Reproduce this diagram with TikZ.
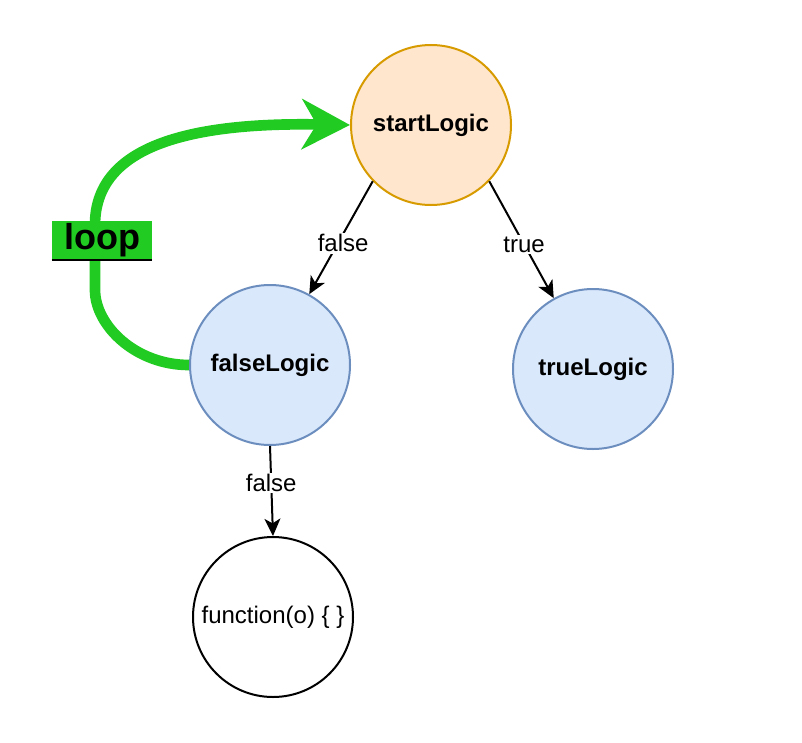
\documentclass[tikz,border=0pt]{standalone}
\usepackage{fontspec}
\setmainfont{Liberation Sans}
\usetikzlibrary{arrows.meta}
\definecolor{peachfill}{HTML}{FFE6CC}
\definecolor{peachline}{HTML}{D79B00}
\definecolor{bluefill}{HTML}{DAE8FC}
\definecolor{blueline}{HTML}{6C8EBF}
\definecolor{loopgreen}{HTML}{21CB21}
\tikzset{
  state/.style={circle, minimum size=120pt, inner sep=0pt, line width=1.5pt, font=\fontsize{18}{20}\selectfont\bfseries},
  startstate/.style={state, draw=peachline, fill=peachfill},
  bluestate/.style={state, draw=blueline, fill=bluefill},
  funcstate/.style={state, draw=black, fill=white, font=\fontsize{18}{20}\selectfont},
  edgelbl/.style={fill=white, inner sep=1pt, font=\fontsize{18}{20}\selectfont},
  flow/.style={line width=1.5pt, -{Stealth[length=13pt,width=12pt,inset=3.5pt]}},
  loopflow/.style={line width=8pt, loopgreen, -{Stealth[length=36pt,width=37.5pt,inset=11pt]}},
  looplbl/.style={fill=loopgreen, minimum width=75pt, minimum height=29pt, inner sep=0pt, font=\fontsize{27}{29}\selectfont\bfseries}
}
\begin{document}
\begin{tikzpicture}[x=0.75pt,y=-0.75pt]
\useasboundingbox (0,0) rectangle (802,742);
\node[startstate] (st) at (431,125) {startLogic};
\node[bluestate] (fl) at (270,365) {falseLogic};
\node[bluestate] (tl) at (593,369) {trueLogic};
\node[funcstate] (fn) at (273,617) {function(o) \{ \}};

\draw[flow] (st.224) -- node[edgelbl, pos=0.55, xshift=4pt] {false} (fl.61);
\draw[flow] (st.316) -- node[edgelbl, pos=0.54] {true} (tl.119);
\draw[flow] (fl.south) -- node[edgelbl, pos=0.41] {false} (fn.north);

\draw[loopflow] (fl.west) .. controls (135,365) and (95,325) .. (95,290)
  -- (95,225) .. controls (95,150) and (180,122) .. (st.west);
\node[looplbl] (lp) at (102,240) {loop};
\draw[line width=1.5pt] (lp.south west) -- (lp.south east);
\end{tikzpicture}
\end{document}
